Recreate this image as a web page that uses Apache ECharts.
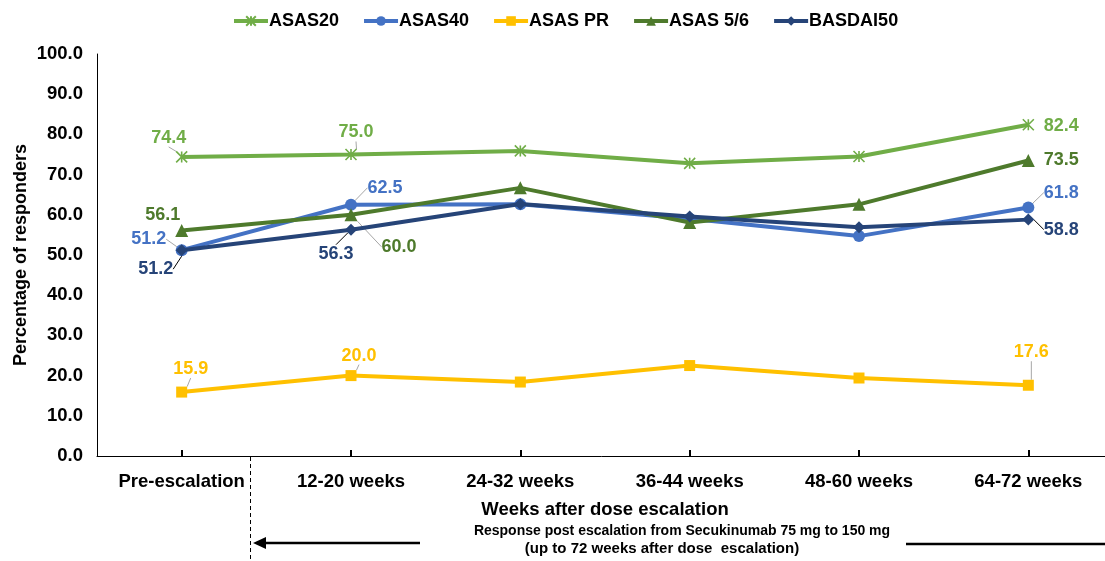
<!DOCTYPE html>
<html>
<head>
<meta charset="utf-8">
<script src="https://cdn.jsdelivr.net/npm/echarts@6/dist/echarts.min.js"></script>
<style>html,body{margin:0;padding:0;background:#fff;}#c{width:1105px;height:561px;}</style>
</head>
<body>
<div id="c"></div>
<script>
const categories = ['Pre-escalation', '12-20 weeks', '24-32 weeks', '36-44 weeks', '48-60 weeks', '64-72 weeks'];
const seriesNames = ['ASAS20', 'ASAS40', 'ASAS PR', 'ASAS 5/6', 'BASDAI50'];
const asas20 = [74.4, 75.0, 75.9, 72.8, 74.5, 82.4];
const asas40 = [51.2, 62.5, 62.6, 59.0, 54.7, 61.8];
const asasPR = [15.9, 20.0, 18.4, 22.5, 19.4, 17.6];
const asas56 = [56.1, 60.0, 66.7, 58.1, 62.6, 73.5];
const basdai50 = [51.2, 56.3, 62.7, 59.6, 56.9, 58.8];
const yMin = 0, yMax = 100, yInterval = 10;

const colors = ['#70AD47', '#4472C4', '#FFC000', '#4E7A2C', '#264478'];
const symbols = [
  'path://M0,0L10,10M10,0L0,10M5,0L5,10',
  'circle', 'rect', 'triangle', 'diamond'
];
const symbolSizes = [11, 12, 11, 13, 12];
// label offsets (dx, dy from point) and leader line colour for labelled points
const labelSpec = [
  {0: [-13, -19, '#A6A6A6'], 1: [5, -22, '#A6A6A6'], 5: [33, 1, null]},
  {0: [-33, -11, '#A6A6A6'], 1: [34, -17, '#A6A6A6'], 5: [33, -15, '#A6A6A6']},
  {0: [9, -23, '#A6A6A6'], 1: [8, -20, '#A6A6A6'], 5: [3, -33, '#A6A6A6']},
  {0: [-19, -15, null], 1: [48, 32, '#A6A6A6'], 5: [33, 0, null]},
  {0: [-26, 19, '#000'], 1: [-15, 24, '#000'], 5: [33, 10, '#000']}
];
const allData = [asas20, asas40, asasPR, asas56, basdai50];

const FONT = '"Liberation Sans", Arial, sans-serif';

const series = seriesNames.map((name, si) => ({
  name: name,
  type: 'line',
  data: allData[si].map((v, i) => {
    const s = labelSpec[si][i];
    if (!s) return v;
    return {
      value: v,
      label: {show: true},
      labelLine: {show: !!s[2], lineStyle: {color: s[2] || '#A6A6A6', width: 1}}
    };
  }),
  symbol: symbols[si],
  symbolSize: symbolSizes[si],
  showAllSymbol: true,
  color: colors[si],
  lineStyle: {width: 4, color: colors[si]},
  itemStyle: si === 0 ? {color: colors[si], borderColor: colors[si], borderWidth: 1.6} : {color: colors[si]},
  label: {
    show: false,
    color: colors[si],
    fontFamily: FONT,
    fontWeight: 'bold',
    fontSize: 18,
    formatter: p => p.value.toFixed(1)
  },
  labelLayout: function (params) {
    const s = labelSpec[si][params.dataIndex];
    if (!s) return {};
    const r = params.rect;
    return {
      x: r.x + r.width / 2 + s[0],
      y: r.y + r.height / 2 + s[1],
      align: 'center',
      verticalAlign: 'middle'
    };
  },
  emphasis: {disabled: true},
  z: 2 + si
}));

const chart = echarts.init(document.getElementById('c'), null, {renderer: 'canvas'});
chart.setOption({
  backgroundColor: '#fff',
  animation: false,
  legend: {
    data: seriesNames,
    top: 7,
    left: 227,
    itemWidth: 34,
    itemHeight: 12,
    itemGap: 23,
    lineStyle: {width: 4},
    textStyle: {fontFamily: FONT, fontWeight: 'bold', fontSize: 18, color: '#000', padding: [0, 0, 0, -4]}
  },
  grid: {left: 97, top: 54, height: 402, width: 1016, containLabel: false, outerBoundsMode: 'none'},
  xAxis: {
    type: 'category',
    data: categories,
    boundaryGap: true,
    axisLine: {lineStyle: {color: '#000', width: 1}},
    axisTick: {show: true, alignWithLabel: true, inside: true, length: 6, lineStyle: {color: '#000', width: 2}},
    axisLabel: {fontFamily: FONT, fontWeight: 'bold', fontSize: 18.5, color: '#000', margin: 16},
    name: 'Weeks after dose escalation',
    nameLocation: 'middle',
    nameGap: 44,
    nameMoveOverlap: false,
    nameTextStyle: {fontFamily: FONT, fontWeight: 'bold', fontSize: 18.5, color: '#000'}
  },
  yAxis: {
    type: 'value',
    min: yMin, max: yMax, interval: yInterval,
    axisLine: {show: true, lineStyle: {color: '#000', width: 1}},
    axisTick: {show: false},
    splitLine: {show: false},
    axisLabel: {fontFamily: FONT, fontWeight: 'bold', fontSize: 18.5, color: '#000', margin: 14, formatter: v => v.toFixed(1)},
    name: 'Percentage of responders',
    nameLocation: 'middle',
    nameGap: 67,
    nameMoveOverlap: false,
    nameTextStyle: {fontFamily: FONT, fontWeight: 'bold', fontSize: 18, color: '#000'}
  },
  graphic: [
    {type: 'line', shape: {x1: 250.5, y1: 457, x2: 250.5, y2: 561}, style: {stroke: '#000', lineWidth: 1, lineDash: [4, 3]}},
    {type: 'line', shape: {x1: 262, y1: 543, x2: 420, y2: 543}, style: {stroke: '#000', lineWidth: 2.5}},
    {type: 'polygon', shape: {points: [[253, 543], [266, 537], [266, 549]]}, style: {fill: '#000'}},
    {type: 'line', shape: {x1: 906, y1: 544, x2: 1105, y2: 544}, style: {stroke: '#000', lineWidth: 2.5}},
    {type: 'text', x: 682, y: 531, style: {text: 'Response post escalation from Secukinumab 75 mg to 150 mg', font: 'bold 14px "Liberation Sans", Arial, sans-serif', fill: '#000', textAlign: 'center', textVerticalAlign: 'middle'}},
    {type: 'text', x: 662, y: 549, style: {text: '(up to 72 weeks after dose  escalation)', font: 'bold 15px "Liberation Sans", Arial, sans-serif', fill: '#000', textAlign: 'center', textVerticalAlign: 'middle'}}
  ],
  series: series
});
</script>
</body>
</html>
